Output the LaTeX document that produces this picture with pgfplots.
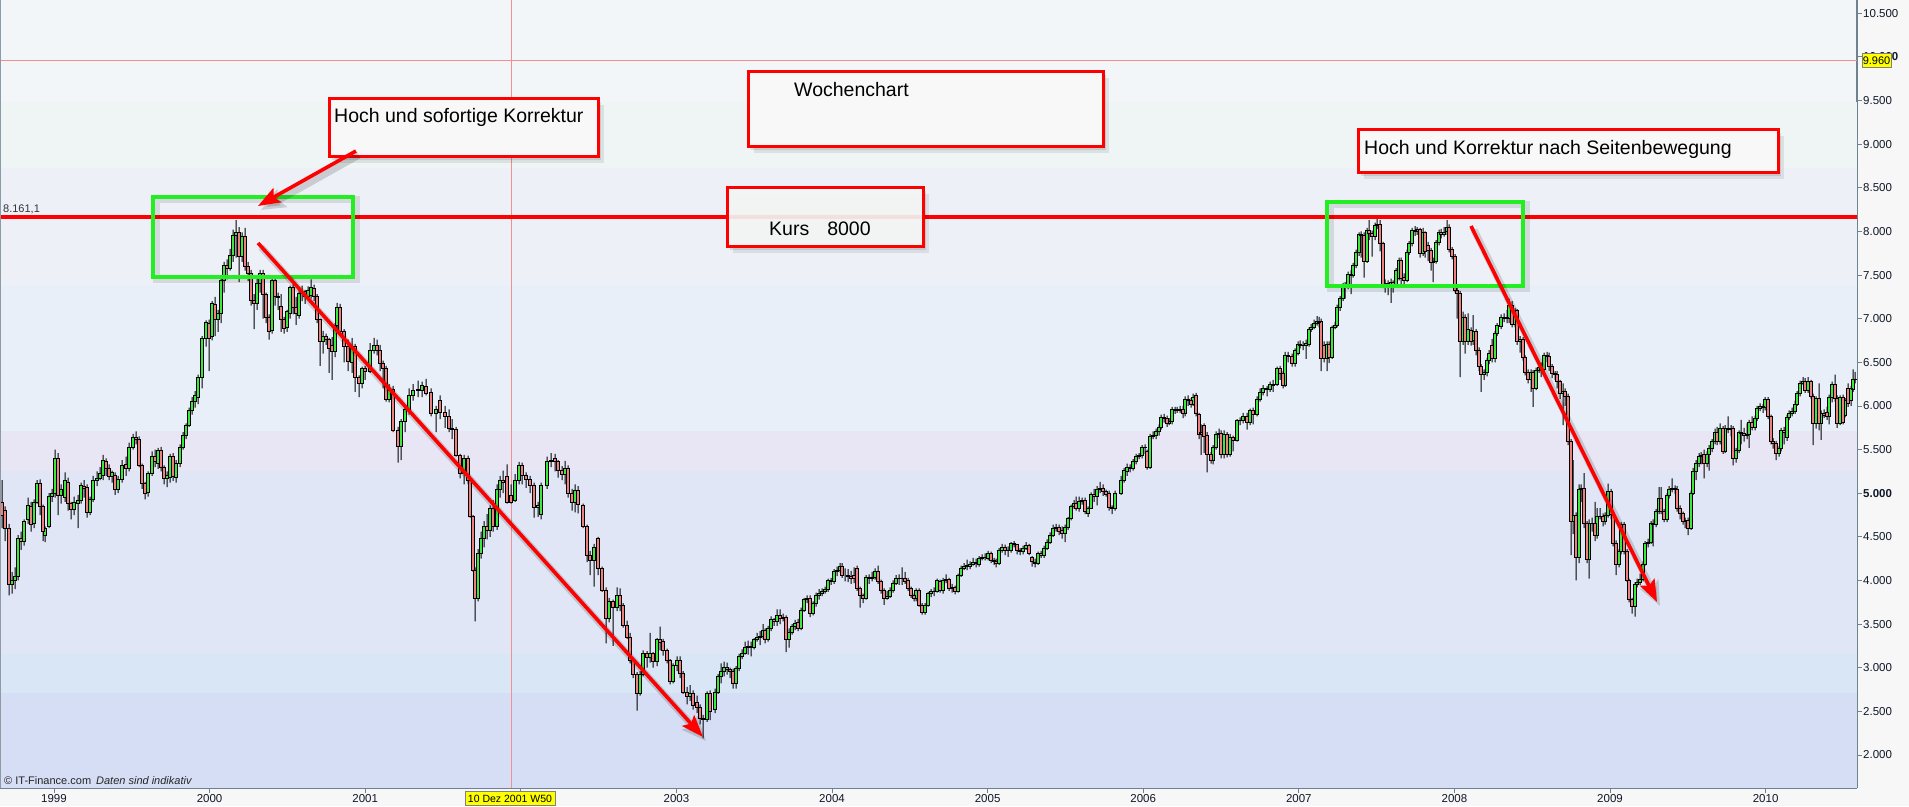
\documentclass[border=0pt]{standalone}
\usepackage{fontspec}
\setmainfont{Liberation Sans}
\usepackage{pgfplots}
\pgfplotsset{compat=1.18}
\usepackage{pgfplotstable}
\usetikzlibrary{arrows.meta}

\definecolor{outbg}{HTML}{F7F7F7}
\definecolor{axcol}{HTML}{6F8290}
\definecolor{labcol}{HTML}{101828}
\definecolor{upc}{HTML}{3DE83D}
\definecolor{dnc}{HTML}{EE8080}
\definecolor{bandA}{HTML}{F3F6F9}
\definecolor{bandB}{HTML}{EEF5F4}
\definecolor{bandC}{HTML}{EEF0F8}
\definecolor{bandD}{HTML}{E8EFF8}
\definecolor{bandE}{HTML}{E8E6F5}
\definecolor{bandF}{HTML}{E0E6F5}
\definecolor{bandG}{HTML}{D8E6F6}
\definecolor{bandH}{HTML}{D6DEF5}
\definecolor{pinkl}{HTML}{F29090}
\definecolor{boxgreen}{HTML}{22EE22}
\definecolor{boxfill}{HTML}{F8F8F8}
\definecolor{hilite}{HTML}{FFFF00}

\pgfplotstableread{
x o h l c
2 4900 5150 4600 4750
5 4800 4850 4450 4600
9 4600 4650 3830 3960
12 3960 4100 3850 4000
15 4000 4150 3900 4050
18 4050 4520 4000 4480
21 4480 4560 4350 4450
24 4450 4700 4400 4680
28 4700 4950 4650 4860
31 4850 4900 4560 4640
34 4660 4930 4600 4900
37 4900 5150 4880 5110
40 5110 5160 4750 4850
43 4850 4870 4450 4560
45 4520 4620 4440 4600
49 4620 5000 4600 4960
52 4960 5050 4900 5000
55 5000 5500 4950 5400
58 5400 5460 4750 4970
61 4970 5100 4880 5050
65 4950 5240 4900 5150
68 5130 5180 4800 4880
71 4880 4900 4700 4810
74 4820 4960 4750 4900
78 4880 4980 4600 4920
81 4920 5120 4880 5090
84 5080 5150 4950 5060
87 5070 5100 4720 4780
90 4780 4960 4750 4930
93 4930 5200 4900 5150
97 5150 5250 5080 5170
100 5170 5300 5150 5230
103 5210 5440 5150 5380
106 5370 5400 5200 5280
109 5290 5330 5150 5190
112 5190 5260 5120 5240
115 5200 5240 4980 5040
118 5040 5200 5000 5160
122 5160 5380 5120 5320
126 5330 5420 5200 5280
129 5280 5580 5250 5530
133 5530 5680 5500 5640
136 5640 5710 5560 5620
139 5620 5650 5300 5320
142 5320 5340 5050 5110
145 5110 5130 4930 5000
148 5010 5250 4960 5230
152 5230 5480 5200 5420
155 5420 5500 5300 5360
158 5340 5520 5280 5490
161 5490 5530 5250 5300
164 5300 5320 5100 5170
167 5170 5250 5070 5200
170 5180 5450 5120 5420
173 5420 5460 5140 5190
176 5180 5380 5120 5340
180 5340 5560 5300 5530
183 5530 5700 5500 5660
186 5660 5800 5620 5780
189 5780 5980 5760 5950
192 5950 6100 5900 6050
195 6050 6170 5980 6120
198 6100 6360 6020 6330
202 6330 6800 6200 6770
206 6770 6980 6680 6960
209 6950 6990 6400 6780
212 6800 7200 6750 7170
215 7160 7250 6800 6990
218 6990 7100 6850 7060
221 7060 7500 6950 7440
224 7440 7650 7300 7610
227 7610 7680 7450 7580
230 7580 7800 7550 7730
233 7730 8020 7650 7960
236 7960 8128 7700 7990
239 7990 8050 7420 7720
242 7720 7990 7650 7940
245 7940 8040 7550 7600
248 7600 7650 7430 7520
251 7520 7560 7150 7210
254 7210 7280 6880 7170
257 7170 7460 7100 7400
260 7400 7560 7300 7520
263 7520 7560 7000 7280
266 7280 7300 6950 7020
269 7020 7050 6760 6850
272 6870 7470 6830 7440
275 7440 7470 7150 7260
278 7260 7300 7100 7240
281 7140 7280 6850 6990
284 6990 7020 6830 6890
287 6900 7100 6850 7080
290 7060 7380 7000 7360
293 7360 7400 7050 7130
296 7130 7250 6930 7060
299 7040 7330 7000 7290
302 7290 7380 7200 7310
305 7310 7330 7170 7260
308 7260 7370 7250 7330
311 7270 7450 7230 7360
314 7350 7390 7200 7260
317 7260 7280 6950 6990
320 6990 7000 6460 6740
323 6740 6860 6600 6800
326 6800 6830 6700 6760
329 6760 6780 6380 6660
332 6700 6790 6300 6620
335 6620 6950 6560 6920
337 6920 7180 6880 7130
340 7130 7170 6800 6860
344 6860 6880 6500 6680
348 6680 6760 6400 6510
352 6500 6780 6380 6680
355 6680 6710 6160 6330
359 6330 6350 6100 6260
362 6260 6450 6200 6430
365 6430 6460 6300 6400
370 6400 6720 6380 6640
374 6640 6780 6600 6690
377 6700 6760 6580 6640
380 6640 6700 6400 6490
383 6490 6520 6200 6430
386 6430 6460 6050 6070
389 6070 6250 6040 6180
393 6190 6230 5700 5720
398 5720 5760 5350 5540
401 5540 5850 5380 5820
405 5820 5990 5700 5960
409 5950 6200 5900 6120
413 6120 6250 6060 6180
418 6180 6290 6100 6190
422 6180 6280 6100 6240
426 6230 6310 6120 6150
431 6160 6200 5880 5920
436 5920 6000 5700 5960
440 6060 6120 5850 5930
445 5930 6000 5750 5880
449 5880 5960 5700 5740
452 5740 5850 5620 5730
456 5730 5760 5420 5430
460 5430 5450 5170 5230
464 5230 5440 5100 5400
468 5400 5430 5100 5150
470 5150 5200 4720 4730
473 4730 4750 4100 4120
475 4120 4150 3530 3800
478 3800 4360 3760 4310
481 4310 4560 4250 4480
484 4480 4680 4380 4620
487 4620 4760 4470 4580
490 4580 4860 4500 4830
493 4830 4920 4560 4620
497 4620 5100 4580 5050
500 5050 5200 4950 5150
503 5150 5260 5000 5120
507 5190 5330 4880 4900
511 4980 5100 4880 4900
515 4920 5220 4900 5150
519 5150 5360 5100 5320
522 5320 5350 5100 5200
526 5200 5240 5060 5160
530 5160 5200 5000 5090
534 5090 5120 4720 4840
538 4840 4900 4730 4860
541 4760 5120 4700 5090
547 5090 5420 5050 5360
551 5360 5460 5300 5380
555 5400 5450 5250 5360
558 5360 5380 5180 5260
562 5260 5310 5150 5220
565 5220 5370 5100 5280
568 5280 5320 4950 5000
572 5000 5050 4800 4890
575 4890 5100 4780 5030
578 5030 5080 4770 4870
583 4860 4880 4600 4620
587 4620 4640 4210 4290
590 4290 4340 4060 4230
594 4230 4420 3930 4380
598 4480 4500 4060 4140
602 4140 4160 3870 3890
606 3890 3920 3280 3570
609 3570 3800 3520 3760
613 3760 3780 3250 3690
617 3690 3920 3650 3830
620 3830 3910 3650 3720
623 3720 3740 3460 3490
627 3490 3540 3330 3350
630 3350 3400 3050 3090
633 3090 3110 2880 2920
637 2920 2950 2510 2710
640 2710 2960 2680 2920
643 2920 3200 2900 3160
647 3160 3190 3000 3120
650 3120 3400 3060 3160
653 3160 3180 3000 3070
657 3070 3340 3020 3320
660 3320 3470 3200 3290
663 3300 3330 3140 3200
667 3200 3220 3050 3090
670 3090 3100 2810 2840
673 2840 3050 2820 3030
677 3030 3130 2960 3080
680 3090 3130 2880 2940
683 2940 2960 2700 2720
687 2720 2780 2580 2670
690 2670 2800 2620 2710
693 2710 2740 2520 2570
697 2600 2680 2480 2550
700 2550 2580 2350 2420
703 2420 2460 2190 2410
707 2410 2730 2380 2710
710 2710 2740 2400 2500
715 2520 2760 2480 2720
718 2720 2930 2700 2900
721 2900 3050 2820 2960
724 2960 3070 2900 3000
727 3000 3060 2920 2980
730 2980 3000 2880 2960
733 2960 2990 2760 2820
736 2820 3020 2760 2990
739 2990 3160 2960 3130
742 3130 3210 3100 3170
745 3170 3300 3150 3230
748 3230 3310 3150 3240
751 3240 3300 3130 3230
754 3230 3340 3210 3320
757 3320 3400 3300 3350
760 3350 3420 3260 3360
763 3360 3500 3330 3430
765 3430 3450 3280 3320
768 3320 3480 3300 3450
771 3450 3590 3420 3550
774 3550 3570 3480 3530
777 3530 3670 3480 3600
780 3600 3670 3500 3570
783 3570 3620 3530 3580
786 3580 3600 3180 3320
789 3320 3450 3230 3410
792 3410 3500 3380 3470
795 3470 3550 3430 3510
798 3520 3560 3420 3450
801 3450 3690 3430 3660
804 3660 3800 3640 3780
807 3780 3830 3740 3790
810 3790 3830 3580 3620
813 3620 3760 3600 3740
816 3740 3860 3700 3830
819 3830 3900 3780 3850
822 3850 3910 3820 3880
825 3880 3930 3850 3900
828 3900 4020 3870 4000
831 4000 4030 3950 3990
834 3990 4130 3960 4100
837 4100 4160 4050 4120
840 4120 4200 4090 4160
842 4160 4200 4030 4060
845 4060 4140 3990 4060
848 4060 4130 3980 4050
851 4050 4110 3960 4030
854 4060 4150 3970 4020
857 4140 4170 3880 3910
860 3910 3930 3690 3830
863 3830 3850 3740 3800
866 3800 4060 3780 4040
869 4040 4070 3960 4020
872 4020 4100 3990 4040
875 4040 4140 4010 4100
878 4100 4170 3960 3990
881 3990 4010 3850 3890
884 3890 3910 3720 3800
887 3800 3880 3780 3820
890 3820 3920 3800 3890
893 3890 4000 3860 3970
896 3970 4060 3950 4020
899 4020 4070 3950 4030
902 4030 4150 3950 4020
905 4030 4100 3960 3990
908 4000 4030 3880 3910
911 3910 3930 3800 3830
914 3830 3850 3760 3800
916 3800 3910 3760 3890
919 3890 3910 3700 3720
922 3720 3740 3610 3640
925 3640 3740 3610 3720
928 3720 3870 3700 3850
931 3850 3900 3810 3870
934 3870 3920 3820 3880
937 3880 4020 3860 4000
940 3990 4010 3860 3890
943 3890 4030 3850 4000
946 4000 4070 3970 4010
949 4010 4030 3880 3910
952 3910 3960 3860 3920
955 3920 3940 3840 3880
958 3880 4080 3860 4060
961 4060 4170 4040 4140
964 4140 4200 4120 4160
967 4160 4240 4120 4170
970 4160 4220 4130 4190
973 4190 4260 4170 4210
976 4210 4250 4150 4200
979 4180 4280 4160 4250
982 4250 4300 4230 4260
985 4260 4310 4230 4270
988 4250 4340 4230 4310
991 4310 4330 4200 4230
994 4230 4260 4180 4220
996 4220 4250 4150 4200
999 4200 4370 4180 4350
1002 4350 4420 4320 4380
1005 4380 4410 4290 4340
1008 4340 4390 4270 4350
1011 4350 4440 4320 4420
1014 4420 4450 4380 4410
1017 4410 4420 4300 4340
1020 4340 4370 4290 4330
1023 4330 4400 4300 4370
1026 4370 4440 4350 4400
1029 4400 4420 4290 4310
1032 4265 4280 4160 4215
1035 4210 4250 4150 4200
1038 4200 4330 4180 4310
1041 4310 4340 4260 4290
1044 4290 4400 4260 4370
1047 4370 4470 4350 4440
1050 4440 4550 4420 4520
1053 4520 4640 4500 4600
1056 4600 4650 4560 4610
1059 4610 4640 4520 4560
1062 4570 4620 4480 4540
1065 4540 4640 4440 4610
1068 4610 4730 4580 4710
1071 4710 4870 4690 4850
1074 4850 4920 4820 4880
1076 4880 4960 4800 4830
1079 4830 4960 4790 4910
1082 4910 4950 4870 4920
1085 4920 4950 4760 4790
1088 4770 4850 4730 4830
1091 4830 5010 4820 4990
1094 4990 5050 4900 4960
1097 4960 5080 4860 5050
1100 5050 5130 5000 5060
1103 5060 5100 4970 5020
1106 5020 5040 4960 4990
1109 5000 5030 4800 4840
1112 4840 4860 4760 4830
1115 4830 5030 4800 5000
1121 5000 5200 4980 5150
1124 5150 5290 5120 5260
1127 5250 5340 5200 5300
1130 5300 5330 5240 5290
1133 5290 5390 5260 5360
1136 5360 5450 5330 5420
1139 5420 5460 5390 5430
1142 5430 5550 5400 5530
1145 5530 5560 5450 5520
1147 5480 5500 5270 5300
1150 5300 5680 5280 5650
1153 5650 5710 5620 5660
1156 5660 5740 5620 5710
1159 5710 5790 5660 5760
1161 5760 5900 5730 5870
1164 5870 5910 5810 5860
1167 5860 5890 5760 5800
1169 5800 5860 5780 5820
1172 5820 5990 5790 5960
1175 5960 5990 5910 5950
1177 5950 5990 5920 5960
1180 5960 6000 5920 5950
1183 5960 6000 5860 5910
1185 5910 6110 5880 6080
1188 6080 6120 6000 6060
1191 6060 6090 5980 6020
1193 6020 6140 6000 6100
1196 6120 6150 5880 5910
1199 5900 5920 5620 5670
1201 5700 5790 5440 5670
1204 5780 5800 5460 5650
1207 5660 5700 5240 5450
1211 5450 5470 5340 5380
1213 5380 5550 5330 5530
1216 5530 5710 5500 5680
1219 5680 5740 5630 5690
1221 5690 5720 5400 5440
1224 5440 5720 5400 5680
1227 5680 5700 5410 5440
1230 5450 5680 5420 5640
1233 5640 5660 5480 5610
1237 5610 5850 5590 5830
1240 5830 5870 5780 5840
1243 5840 5920 5800 5880
1247 5880 5920 5730 5810
1250 5810 5970 5780 5950
1253 5950 5980 5790 5900
1257 5900 6110 5880 6080
1260 6080 6200 6050 6160
1263 6160 6240 6120 6200
1267 6200 6230 6110 6190
1270 6190 6280 6160 6250
1273 6250 6300 6160 6240
1277 6250 6450 6230 6430
1280 6430 6460 6300 6370
1283 6370 6400 6200 6240
1285 6240 6620 6220 6580
1288 6580 6620 6500 6570
1292 6570 6600 6450 6490
1295 6490 6660 6450 6640
1298 6600 6740 6580 6710
1300 6710 6750 6660 6700
1303 6700 6740 6640 6690
1306 6690 6760 6540 6720
1309 6710 6900 6680 6880
1311 6880 6940 6850 6900
1314 6900 6990 6880 6950
1317 6950 7030 6920 6970
1319 6970 7020 6900 6960
1321 6970 7000 6400 6550
1324 6700 6740 6500 6550
1327 6550 6740 6400 6710
1329 6710 6740 6490 6560
1332 6560 6920 6540 6900
1335 6900 6960 6880 6920
1337 6920 7160 6900 7130
1340 7130 7260 7090 7230
1343 7230 7410 7200 7380
1345 7380 7420 7230 7370
1348 7370 7540 7340 7510
1351 7510 7560 7280 7500
1353 7500 7640 7470 7610
1356 7610 7790 7580 7760
1359 7760 7990 7720 7970
1361 7970 8000 7700 7960
1364 7960 7990 7470 7660
1367 7660 8040 7640 8010
1369 8010 8128 7900 7980
1372 7980 8010 7710 7940
1375 7940 8100 7900 8070
1377 8070 8140 8030 8080
1380 8080 8130 7770 7860
1383 7860 7880 7350 7380
1385 7380 7450 7300 7410
1388 7410 7440 7270 7390
1391 7390 7460 7180 7420
1393 7420 7440 7300 7390
1396 7390 7580 7360 7550
1399 7460 7700 7440 7670
1401 7670 7700 7400 7460
1404 7470 7520 7380 7440
1407 7440 7790 7420 7760
1409 7760 7890 7730 7860
1412 7860 8040 7830 8010
1415 8010 8060 7950 8000
1417 8000 8050 7960 8020
1420 8020 8040 7700 7750
1423 7750 8040 7720 7990
1425 7990 8000 7700 7770
1428 7840 7880 7660 7780
1431 7780 7810 7550 7650
1433 7650 7700 7420 7660
1436 7660 7900 7630 7880
1439 7870 8020 7840 7990
1441 7990 8030 7920 7970
1444 7970 8050 7940 7990
1447 8000 8128 7960 8050
1449 8050 8080 7760 7790
1452 7790 7820 7680 7710
1455 7710 7740 7300 7330
1457 7330 7350 7000 7290
1460 7290 7320 6330 6740
1463 6740 7080 6700 7020
1465 7020 7050 6600 6740
1468 6740 7060 6700 6880
1471 6870 6900 6690 6740
1473 6750 7040 6700 6850
1476 6850 6880 6580 6640
1479 6640 6670 6400 6450
1481 6450 6480 6160 6360
1484 6360 6420 6300 6390
1487 6390 6550 6340 6520
1489 6520 6640 6480 6600
1492 6700 6770 6500 6540
1495 6540 6860 6500 6830
1497 6830 6950 6800 6920
1501 6910 7050 6880 7020
1504 7020 7060 6960 7000
1507 7000 7100 6950 7010
1509 7000 7230 6950 7150
1512 7150 7200 6900 6930
1515 6930 7120 6900 7090
1517 7090 7110 6700 6740
1520 6740 6800 6610 6760
1523 6760 6790 6520 6560
1525 6560 6580 6350 6390
1528 6390 6420 6260 6300
1531 6300 6420 6160 6390
1533 6390 6410 5990 6200
1536 6200 6440 6180 6410
1539 6410 6480 6380 6440
1541 6440 6500 6330 6420
1544 6420 6610 6390 6580
1547 6580 6620 6500 6570
1549 6570 6610 6400 6450
1552 6450 6480 6320 6370
1555 6370 6400 6300 6360
1557 6360 6400 6200 6280
1560 6280 6300 6080 6150
1563 6150 6260 5780 6170
1565 6170 6200 6000 6110
1568 6110 6140 5550 5590
1571 5590 5620 4290 4680
1573 4680 5380 4530 4750
1576 4750 4780 4000 4270
1579 4270 5100 4200 5050
1581 5050 5100 4900 5060
1584 5060 5230 4600 4650
1587 4650 4680 4200 4240
1589 4240 4700 4020 4650
1592 4650 4720 4560 4660
1595 4660 4900 4450 4520
1597 4520 4830 4480 4730
1600 4730 4830 4700 4740
1603 4740 4770 4620 4680
1605 4680 4780 4640 4750
1608 4750 5110 4720 5020
1611 5020 5050 4700 4760
1613 4760 4790 4390 4430
1616 4430 4460 4060 4180
1619 4180 4360 4150 4330
1621 4330 4670 4300 4640
1624 4640 4670 4300 4330
1627 4330 4360 3980 4000
1629 4000 4020 3750 3780
1632 3780 3800 3620 3700
1635 3700 3980 3585 3950
1637 3950 4020 3920 3980
1640 3980 4080 3950 4010
1643 4010 4220 3990 4190
1645 4190 4450 4170 4420
1648 4420 4480 4380 4440
1651 4440 4680 4420 4650
1653 4650 4700 4390 4640
1656 4640 4820 4610 4790
1659 4790 5070 4760 4940
1661 4940 5070 4760 4790
1664 4790 4820 4670 4700
1667 4700 5000 4670 4980
1669 4980 5080 4940 5050
1672 5050 5170 5010 5060
1675 5060 5090 4990 5050
1677 5050 5080 4790 4830
1680 4830 4860 4700 4770
1683 4770 4790 4640 4680
1685 4680 4720 4600 4690
1688 4690 4720 4520 4600
1691 4600 5030 4580 5000
1693 5000 5290 4980 5250
1696 5250 5380 5150 5340
1699 5340 5460 5300 5420
1701 5420 5470 5330 5430
1704 5440 5500 5170 5340
1707 5340 5480 5300 5450
1709 5450 5550 5260 5510
1712 5510 5620 5470 5590
1715 5590 5740 5560 5700
1717 5700 5760 5550 5590
1720 5590 5800 5560 5740
1723 5740 5770 5450 5480
1725 5480 5780 5460 5740
1728 5740 5880 5690 5730
1731 5730 5780 5650 5740
1733 5740 5770 5320 5400
1736 5400 5520 5350 5490
1739 5490 5720 5460 5700
1741 5700 5840 5560 5690
1744 5690 5750 5590 5660
1747 5660 5800 5620 5680
1749 5680 5840 5520 5810
1752 5810 5880 5720 5760
1755 5760 5890 5720 5860
1757 5860 6000 5830 5970
1760 5970 6030 5940 5990
1763 5990 6020 5920 5980
1765 5980 6100 5950 6070
1768 6070 6100 5850 5880
1771 5880 5900 5560 5590
1773 5590 5630 5510 5570
1776 5570 5600 5380 5460
1779 5460 5540 5420 5510
1781 5510 5750 5480 5720
1784 5720 5760 5560 5700
1787 5640 5900 5600 5870
1789 5870 5950 5840 5910
1792 5910 5980 5880 5940
1795 5940 6060 5910 6020
1797 6020 6170 6000 6140
1800 6140 6290 6110 6260
1803 6260 6330 6240 6280
1805 6280 6320 6150 6180
1808 6180 6330 6150 6280
1811 6280 6300 6080 6110
1813 6110 6140 5550 5800
1816 5800 6110 5740 6090
1819 6090 6260 5720 5800
1821 5800 5950 5610 5920
1824 5920 5960 5860 5890
1827 5930 5990 5840 5880
1829 5880 6130 5790 6100
1832 6100 6280 6040 6250
1835 6250 6360 6050 6090
1837 6090 6120 5750 5800
1840 5800 6120 5780 6100
1843 6100 6130 5790 5810
1845 5890 6090 5870 6060
1848 6200 6260 5990 6030
1851 6060 6230 6000 6200
1853 6190 6420 6160 6310
1855 6310 6390 6260 6300
}\candles

\newcommand\annbox[4]{%
  \fill[black,opacity=0.08] (#1+6,#2+6) rectangle (#3+6,#4+6);
  \fill[black,opacity=0.10] (#1+3,#2+3) rectangle (#3+3,#4+3);
  \filldraw[fill=boxfill, draw=red, line width=3pt] (#1,#2) rectangle (#3,#4);}
\newcommand\greenbox[4]{%
  \draw[black,opacity=0.10,line width=7pt] (#1+3,#2+3) rectangle (#3+3,#4+3);
  \draw[boxgreen, line width=4pt] (#1,#2) rectangle (#3,#4);}
\newcommand\redarrow[4]{%
  \draw[black,opacity=0.15,line width=7pt,-{Stealth[length=24pt,width=20pt,inset=4pt]}] (#1+3,#2+4) -- (#3+3,#4+4);
  \draw[red,line width=3.6pt,-{Stealth[length=22pt,width=16pt,inset=4pt]}] (#1,#2) -- (#3,#4);}

\begin{document}
\begin{tikzpicture}
\fill[outbg] (0,0) rectangle (1909pt,806pt);
\useasboundingbox (0,0) rectangle (1909pt,806pt);
\begin{axis}[
  at={(0pt,18pt)}, anchor=south west, scale only axis,
  width=1857pt, height=788pt,
  xmin=0, xmax=1857, ymin=1622, ymax=10652,
  axis x line*=bottom, axis y line*=right,
  axis line style={draw=axcol, line width=1.3pt},
  tick align=outside, major tick length=5pt,
  tick style={draw=axcol, line width=0.8pt},
  xtick={54,209.6,365.2,520.8,676.4,832,987.6,1143.2,1298.8,1454.4,1610,1765.6},
  xticklabels={1999,2000,2001,2002,2003,2004,2005,2006,2007,2008,2009,2010},
  ytick={2000,2500,...,10500},
  yticklabels={2.000,2.500,3.000,3.500,4.000,4.500,\textbf{5.000},5.500,6.000,6.500,7.000,7.500,8.000,8.500,9.000,9.500,\textbf{10.000},10.500},
  ticklabel style={font=\fontsize{11.5}{13}\selectfont, text=labcol},
  yticklabel style={anchor=west, inner sep=0pt, xshift=1pt},
  xticklabel style={anchor=north, inner sep=0pt, yshift=-1pt},
  axis background/.style={fill=bandA},
  ybar stacked, bar width=2.4pt, reverse stacked plots=false,
]
\fill[bandB] (axis cs:0,8724) rectangle (axis cs:1857,9480);
\fill[bandC] (axis cs:0,7384) rectangle (axis cs:1857,8724);
\fill[bandD] (axis cs:0,5711) rectangle (axis cs:1857,7384);
\fill[bandE] (axis cs:0,5253) rectangle (axis cs:1857,5711);
\fill[bandF] (axis cs:0,3168) rectangle (axis cs:1857,5253);
\fill[bandG] (axis cs:0,2710) rectangle (axis cs:1857,3168);
\fill[bandH] (axis cs:0,1622) rectangle (axis cs:1857,2710);
\draw[pinkl, line width=1pt] (axis cs:511,1622) -- (axis cs:511,10652);
\draw[pinkl, line width=1pt] (axis cs:0,9960) -- (axis cs:1857,9960);
\draw[red, line width=4pt] (axis cs:0,8161.1) -- (axis cs:1857,8161.1);
% stacked candles (all increments non-negative):
% base = low, lower wick, up body, down body, upper wick
\addplot[draw=none, fill=none] table[x=x, y=l] {\candles};
\addplot[draw=none, fill=black, bar width=1pt] table[x=x, y expr={min(\thisrow{o},\thisrow{c})-\thisrow{l}}] {\candles};
\addplot[draw=black, line width=0.7pt, fill=upc] table[x=x, y expr={\thisrow{c}>\thisrow{o} ? \thisrow{c}-\thisrow{o} : 0}] {\candles};
\addplot[draw=black, line width=0.7pt, fill=dnc] table[x=x, y expr={\thisrow{c}>\thisrow{o} ? 0 : \thisrow{o}-\thisrow{c}}] {\candles};
\addplot[draw=none, fill=black, bar width=1pt] table[x=x, y expr={\thisrow{h}-max(\thisrow{o},\thisrow{c})}] {\candles};
\end{axis}

\begin{scope}[x=1pt, y=-1pt, shift={(0pt,806pt)}]
\draw[axcol!80, line width=1pt] (0.5,0) -- (0.5,788);
\greenbox{153}{197}{353}{277}
\greenbox{1327}{202}{1523}{286}
\annbox{329}{99}{598}{157}
\node[anchor=base west, inner sep=0pt, font=\fontsize{19.5}{23}\selectfont] at (334,123) {Hoch und sofortige Korrektur};
\annbox{748}{72}{1103}{147}
\node[anchor=base west, inner sep=0pt, font=\fontsize{19.5}{23}\selectfont] at (794,97) {Wochenchart};
\fill[black,opacity=0.08] (733,194) rectangle (929,253);
\fill[black,opacity=0.10] (730,191) rectangle (926,250);
\filldraw[fill=boxfill, fill opacity=0.9, draw=red, line width=3pt] (727,188) rectangle (923,247);
\node[anchor=base west, inner sep=0pt, font=\fontsize{19.5}{23}\selectfont] at (769,236) {Kurs\hspace{18pt}8000};
\annbox{1358}{130}{1778}{173}
\node[anchor=base west, inner sep=0pt, font=\fontsize{19.5}{23}\selectfont] at (1364,155) {Hoch und Korrektur nach Seitenbewegung};
\redarrow{356}{151}{258}{206}
\redarrow{258}{243}{703}{737}
\redarrow{1471}{226}{1657}{602}
\node[anchor=base west, inner sep=0pt, font=\fontsize{11}{13}\selectfont, text=black!80] at (3,213) {8.161,1};
\node[anchor=base west, inner sep=0pt, font=\fontsize{11}{13}\selectfont, text=black!85] at (4,785) {© IT-Finance.com\hspace{5pt}\textit{Daten sind indikativ}};
\filldraw[fill=hilite, draw=black!50, line width=0.8pt] (1862,53) rectangle (1891,67);
\node[inner sep=0pt, font=\fontsize{11}{13}\selectfont] at (1876.5,60.5) {9.960};
\filldraw[fill=hilite, draw=black!50, line width=0.8pt] (465,791) rectangle (555,805);
\node[inner sep=0pt, font=\fontsize{10.5}{12}\selectfont] at (510,798.5) {10 Dez 2001 W50};
\end{scope}
\end{tikzpicture}
\end{document}
